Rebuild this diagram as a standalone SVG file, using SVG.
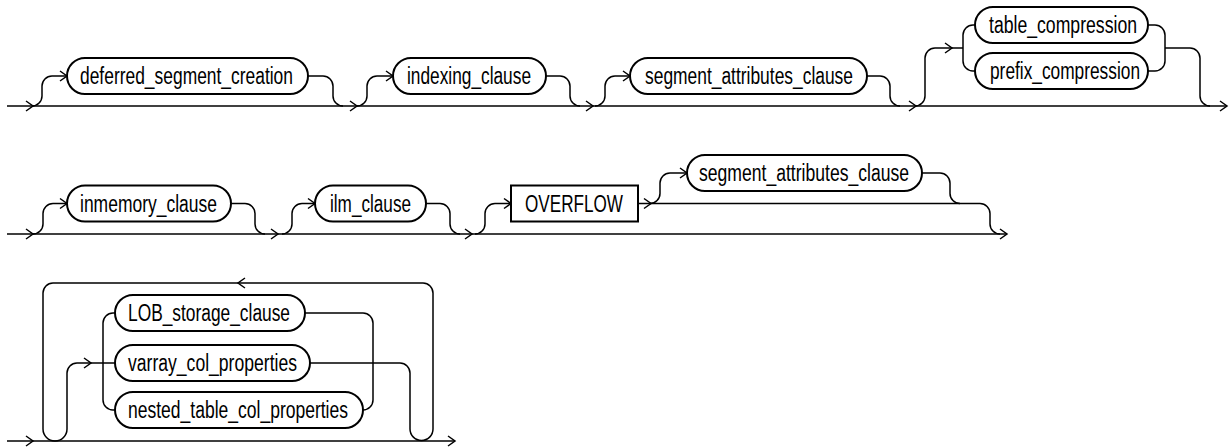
<svg xmlns="http://www.w3.org/2000/svg" xmlns:xlink="http://www.w3.org/1999/xlink" width="1230" height="448" viewBox="0 0 1230 448">
<style>
.ln{fill:none;stroke:#000;stroke-width:1.5}
.nd{fill:#fff;stroke:#000;stroke-width:2}
.tx{font-family:"Liberation Sans Narrow","Liberation Sans",Arial,sans-serif;font-size:23px;fill:#000;text-anchor:start}
</style>
<defs>
<path id="ar" d="M-7,-5 L0,0 L-7,5" fill="none" stroke="#000" stroke-width="1.5"/>
</defs>
<rect width="1230" height="448" fill="#fff"/>
<g id="connectors">
<!-- row 1 -->
<path class="ln" d="M7 106 H1227"/>
<path class="ln" d="M32 106 A10 10 0 0 0 42 96 V86 A10 10 0 0 1 52 76 H67"/>
<path class="ln" d="M308 76 H323 A10 10 0 0 1 333 86 V96 A10 10 0 0 0 343 106"/>
<path class="ln" d="M357 106 A10 10 0 0 0 367 96 V86 A10 10 0 0 1 377 76 H393"/>
<path class="ln" d="M546 76 H560 A10 10 0 0 1 570 86 V96 A10 10 0 0 0 580 106"/>
<path class="ln" d="M595 106 A10 10 0 0 0 605 96 V86 A10 10 0 0 1 615 76 H630"/>
<path class="ln" d="M867 76 H880 A10 10 0 0 1 890 86 V96 A10 10 0 0 0 900 106"/>
<path class="ln" d="M915 106 A10 10 0 0 0 925 96 V58 A10 10 0 0 1 935 48 H963"/>
<path class="ln" d="M975 25 H973 A10 10 0 0 0 963 35 V61 A10 10 0 0 0 973 71 H975"/>
<path class="ln" d="M1148 25 H1155 A10 10 0 0 1 1165 35 V61 A10 10 0 0 1 1155 71 H1148"/>
<path class="ln" d="M1165 48 H1190 A10 10 0 0 1 1200 58 V96 A10 10 0 0 0 1210 106"/>
<use xlink:href="#ar" transform="translate(33,106)"/>
<use xlink:href="#ar" transform="translate(67,76)"/>
<use xlink:href="#ar" transform="translate(357,106)"/>
<use xlink:href="#ar" transform="translate(393,76)"/>
<use xlink:href="#ar" transform="translate(593,106)"/>
<use xlink:href="#ar" transform="translate(630,76)"/>
<use xlink:href="#ar" transform="translate(916,106)"/>
<use xlink:href="#ar" transform="translate(952,48)"/>
<use xlink:href="#ar" transform="translate(1227,106)"/>
<!-- row 2 -->
<path class="ln" d="M7 234 H1007"/>
<path class="ln" d="M33 234 A10 10 0 0 0 43 224 V213.5 A10 10 0 0 1 53 203.5 H67"/>
<path class="ln" d="M231 203.5 H245 A10 10 0 0 1 255 213.5 V224 A10 10 0 0 0 265 234"/>
<path class="ln" d="M282 234 A10 10 0 0 0 292 224 V213.5 A10 10 0 0 1 302 203.5 H315"/>
<path class="ln" d="M426 203.5 H440 A10 10 0 0 1 450 213.5 V224 A10 10 0 0 0 460 234"/>
<path class="ln" d="M475 234 A10 10 0 0 0 485 224 V213.5 A10 10 0 0 1 495 203.5 H511"/>
<path class="ln" d="M638 203.5 H980 A10 10 0 0 1 990 213.5 V224 A10 10 0 0 0 1000 234"/>
<path class="ln" d="M650 203.5 A10 10 0 0 0 660 193.5 V183 A10 10 0 0 1 670 173 H687"/>
<path class="ln" d="M922 173 H940 A10 10 0 0 1 950 183 V193.5 A10 10 0 0 0 960 203.5"/>
<use xlink:href="#ar" transform="translate(33,234)"/>
<use xlink:href="#ar" transform="translate(67,203.5)"/>
<use xlink:href="#ar" transform="translate(278,234)"/>
<use xlink:href="#ar" transform="translate(315,203.5)"/>
<use xlink:href="#ar" transform="translate(472,234)"/>
<use xlink:href="#ar" transform="translate(511,203.5)"/>
<use xlink:href="#ar" transform="translate(651,203.5)"/>
<use xlink:href="#ar" transform="translate(687,173)"/>
<use xlink:href="#ar" transform="translate(1007,234)"/>
<!-- row 3 -->
<path class="ln" d="M7 441 H455"/>
<path class="ln" d="M43 429 A12 12 0 0 0 67 429 V373 A10 10 0 0 1 77 363 H115"/>
<path class="ln" d="M43 429 V293 A10 10 0 0 1 53 283 H423 A10 10 0 0 1 433 293 V429 A11.5 11.5 0 0 1 410 429 V373 A10 10 0 0 0 400 363 H310"/>
<path class="ln" d="M115 313 H113 A10 10 0 0 0 103 323 V400 A10 10 0 0 0 113 410 H115"/>
<path class="ln" d="M305 313 H363 A10 10 0 0 1 373 323 V400 A10 10 0 0 1 363 410"/>
<use xlink:href="#ar" transform="translate(33,441)"/>
<use xlink:href="#ar" transform="translate(91,363)"/>
<use xlink:href="#ar" transform="translate(238,283) rotate(180)"/>
<use xlink:href="#ar" transform="translate(455,441)"/>
</g>
<g id="n-deferred"><rect class="nd" x="67" y="58" width="241" height="36" rx="18"/><text class="tx" x="80" y="84" textLength="213" lengthAdjust="spacingAndGlyphs">deferred_segment_creation</text></g>
<g id="n-indexing"><rect class="nd" x="393" y="58" width="153" height="36" rx="18"/><text class="tx" x="407" y="84" textLength="124" lengthAdjust="spacingAndGlyphs">indexing_clause</text></g>
<g id="n-segattr1"><rect class="nd" x="630" y="58" width="237" height="36" rx="18"/><text class="tx" x="645" y="84" textLength="208" lengthAdjust="spacingAndGlyphs">segment_attributes_clause</text></g>
<g id="n-tablecomp"><rect class="nd" x="975" y="7" width="173" height="36" rx="18"/><text class="tx" x="989" y="33" textLength="148" lengthAdjust="spacingAndGlyphs">table_compression</text></g>
<g id="n-prefixcomp"><rect class="nd" x="975" y="53" width="173" height="36" rx="18"/><text class="tx" x="990" y="79" textLength="150" lengthAdjust="spacingAndGlyphs">prefix_compression</text></g>
<g id="n-inmemory"><rect class="nd" x="67" y="185.5" width="164" height="36" rx="18"/><text class="tx" x="80" y="211.5" textLength="137" lengthAdjust="spacingAndGlyphs">inmemory_clause</text></g>
<g id="n-ilm"><rect class="nd" x="315" y="185.5" width="111" height="36" rx="18"/><text class="tx" x="330" y="211.5" textLength="81" lengthAdjust="spacingAndGlyphs">ilm_clause</text></g>
<g id="n-overflow"><rect class="nd" x="511" y="185.5" width="127" height="36"/><text class="tx" x="525" y="211.5" textLength="98" lengthAdjust="spacingAndGlyphs">OVERFLOW</text></g>
<g id="n-segattr2"><rect class="nd" x="687" y="155" width="235" height="36" rx="18"/><text class="tx" x="699" y="181" textLength="210" lengthAdjust="spacingAndGlyphs">segment_attributes_clause</text></g>
<g id="n-lob"><rect class="nd" x="115" y="295" width="190" height="36" rx="18"/><text class="tx" x="128" y="321" textLength="162" lengthAdjust="spacingAndGlyphs">LOB_storage_clause</text></g>
<g id="n-varray"><rect class="nd" x="115" y="345" width="195" height="36" rx="18"/><text class="tx" x="128" y="371" textLength="169" lengthAdjust="spacingAndGlyphs">varray_col_properties</text></g>
<g id="n-nested"><rect class="nd" x="115" y="392" width="248" height="36" rx="18"/><text class="tx" x="128" y="418" textLength="220" lengthAdjust="spacingAndGlyphs">nested_table_col_properties</text></g>
</svg>
